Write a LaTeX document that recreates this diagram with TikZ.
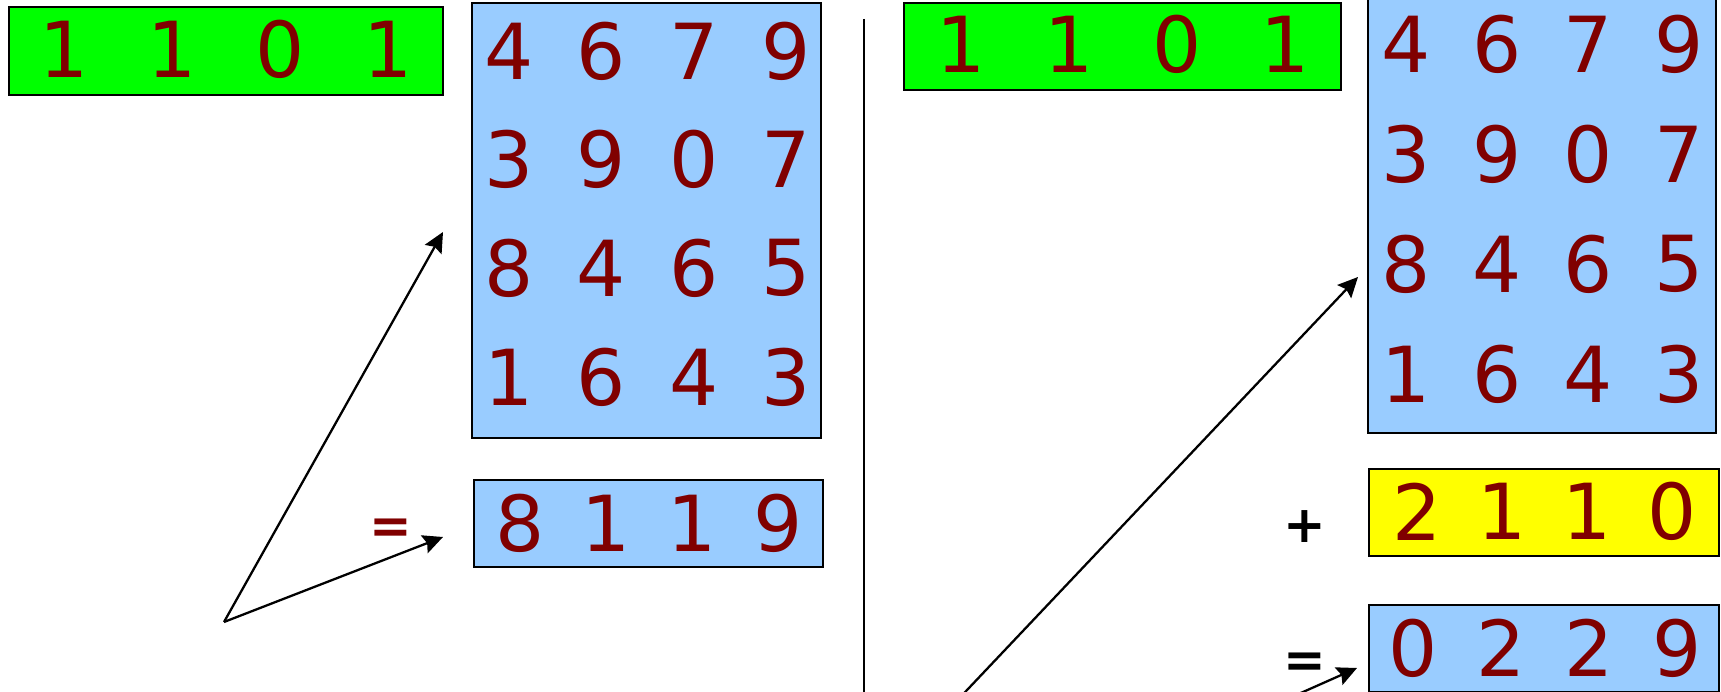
\documentclass[tikz,border=0pt]{standalone}
\usepackage{fontspec}
\setmainfont{DejaVu Sans}
\usetikzlibrary{arrows.meta}
\definecolor{keygreen}{RGB}{0,255,0}
\definecolor{tableblue}{RGB}{153,204,255}
\definecolor{addyellow}{RGB}{255,255,0}
\definecolor{digitred}{RGB}{128,0,0}

\begin{document}
\begin{tikzpicture}[
		x=0.02cm, y=-0.02cm,
		>={Stealth[length=4mm, width=3.8mm, inset=0.6mm]},
		box/.style={draw, line width=1.2pt, inner sep=0pt, minimum height=87*0.02cm},
		digit/.style={text=digitred, inner sep=0pt, font=\fontsize{44}{50}\selectfont},
		sign/.style={inner sep=0pt, font=\fontsize{29}{34}\selectfont\bfseries},
		link/.style={->, line width=1.3pt}
	]

	\useasboundingbox (0,0) rectangle (1721,692);
	\clip (0,0) rectangle (1721,692);

	%% Left half: key, table, result
	\node[box, fill=keygreen, minimum width=434*0.02cm, minimum height=88*0.02cm] (lkey) at (226,51) {};
	\foreach \d [count=\i] in {1,1,0,1}
		\node[digit] (lkey-\i) at ({226+(\i-2.5)*108}, 49) {\d};

	\node[box, fill=tableblue, minimum width=349*0.02cm, minimum height=435*0.02cm] (lmat) at (646.5,220.5) {};
	\foreach \row [count=\r] in {{4,6,7,9},{3,9,0,7},{8,4,6,5},{1,6,4,3}}
		\foreach \d [count=\c] in \row
			\node[digit] (lmat-\r-\c) at ({647.5+(\c-2.5)*92.5}, {214+(\r-2.5)*108.7}) {\d};

	\node[box, fill=tableblue, minimum width=349*0.02cm] (lres) at (648.5,523.5) {};
	\foreach \d [count=\i] in {8,1,1,9}
		\node[digit] (lres-\i) at ({649+(\i-2.5)*86}, 523) {\d};
	\node[sign, text=digitred] (leq) at (391,531) {=};

	%% Left arrows
	\coordinate (lfoot) at (224,622);
	\coordinate (ltop) at (443,232);
	\coordinate (lmid) at (443,537);
	\draw[link] (lfoot) -- (ltop);
	\draw[link] (lfoot) -- (lmid);

	%% Divider
	\coordinate (divtop) at (864,19);
	\coordinate (divbot) at (864,700);
	\draw[line width=0.9pt] (divtop) -- (divbot);

	%% Right half: key, table, addend, result
	\node[box, fill=keygreen, minimum width=437*0.02cm] (rkey) at (1122.5,46.5) {};
	\foreach \d [count=\i] in {1,1,0,1}
		\node[digit] (rkey-\i) at ({1123+(\i-2.5)*108}, 44) {\d};

	\node[box, fill=tableblue, minimum width=348*0.02cm, minimum height=435*0.02cm] (rmat) at (1542,215.5) {};
	\foreach \row [count=\r] in {{4,6,7,9},{3,9,0,7},{8,4,6,5},{1,6,4,3}}
		\foreach \d [count=\c] in \row
			\node[digit] (rmat-\r-\c) at ({1543+(\c-2.5)*91}, {209+(\r-2.5)*110}) {\d};

	\node[box, fill=addyellow, minimum width=350*0.02cm] (radd) at (1544,512.5) {};
	\foreach \d [count=\i] in {2,1,1,0}
		\node[digit] (radd-\i) at ({1544.5+(\i-2.5)*85}, 511.5) {\d};
	\node[sign] (rplus) at (1305,527) {+};

	\node[box, fill=tableblue, minimum width=350*0.02cm] (rres) at (1544,648.5) {};
	\foreach \d [count=\i] in {0,2,2,9}
		\node[digit] (rres-\i) at ({1545+(\i-2.5)*88}, 648) {\d};
	\node[sign] (req) at (1305,665) {=};

	%% Right arrows (foot lies below the frame)
	\coordinate (rfoot) at (720,951);
	\coordinate (rtop) at (1358,277);
	\coordinate (rlow) at (1357,668);
	\draw[link] (rfoot) -- (rtop);
	\draw[link] (rfoot) -- (rlow);

\end{tikzpicture}
\end{document}
